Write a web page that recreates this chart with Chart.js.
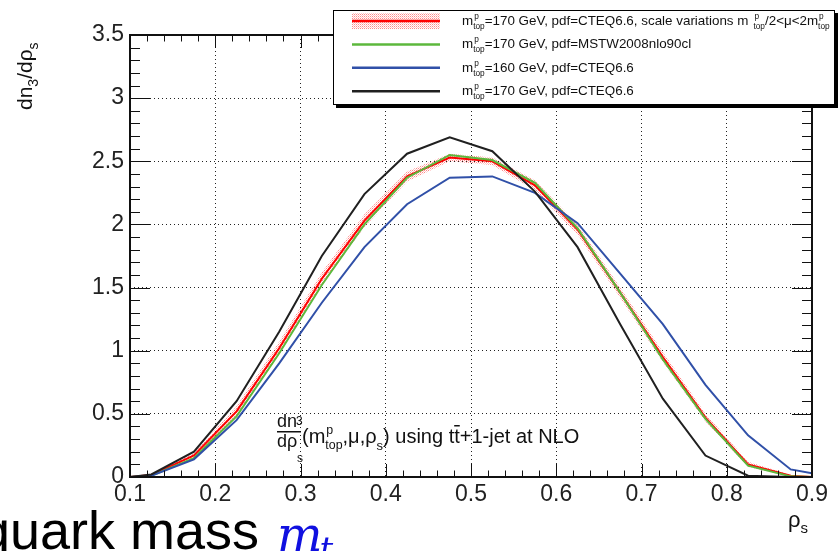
<!DOCTYPE html>
<html>
<head>
<meta charset="utf-8">
<script src="https://cdn.jsdelivr.net/npm/chart.js@4"></script>
<style>
  body { margin: 0; background: #fff; }
  canvas { display: block; }
</style>
</head>
<body>
<canvas id="rho" width="839" height="551"></canvas>
<script>
// rho_s values (bin centres plus the two end points)
const xVals = [0.1, 0.125, 0.175, 0.225, 0.275, 0.325, 0.375, 0.425, 0.475, 0.525, 0.575, 0.625, 0.675, 0.725, 0.775, 0.825, 0.875, 0.9];

// dn3/drho_s for each sample
const cteq170    = [0, 0.015, 0.17, 0.52, 1.02, 1.57, 2.03, 2.38, 2.53, 2.50, 2.31, 1.96, 1.46, 0.95, 0.47, 0.10, 0.01, 0];
const scaleUp    = [0, 0.02, 0.19, 0.56, 1.07, 1.62, 2.08, 2.42, 2.56, 2.53, 2.35, 2.00, 1.50, 0.99, 0.50, 0.12, 0.015, 0];
const scaleDown  = [0, 0.01, 0.15, 0.48, 0.97, 1.52, 1.98, 2.34, 2.50, 2.47, 2.27, 1.92, 1.42, 0.91, 0.44, 0.08, 0.005, 0];
const mstw170    = [0, 0.01, 0.15, 0.48, 0.98, 1.52, 2.00, 2.37, 2.55, 2.51, 2.33, 1.97, 1.46, 0.93, 0.46, 0.09, 0.005, 0];
const cteq160    = [0, 0.01, 0.14, 0.45, 0.90, 1.38, 1.82, 2.16, 2.37, 2.38, 2.25, 2.01, 1.61, 1.21, 0.73, 0.33, 0.06, 0.03];
const cteq170old = [0, 0.02, 0.20, 0.60, 1.15, 1.75, 2.24, 2.56, 2.69, 2.58, 2.26, 1.82, 1.21, 0.62, 0.17, 0.01, 0, 0];

const xTicks = [0.1, 0.2, 0.3, 0.4, 0.5, 0.6, 0.7, 0.8, 0.9];
const xTickLabels = ['0.1', '0.2', '0.3', '0.4', '0.5', '0.6', '0.7', '0.8', '0.9'];
const yTicks = [0, 0.5, 1, 1.5, 2, 2.5, 3, 3.5];
const yTickLabels = ['0', '0.5', '1', '1.5', '2', '2.5', '3', '3.5'];

const legendRows = [
  { color: '#ff0000', band: true,  text: '=170 GeV, pdf=CTEQ6.6, scale variations m', scaleRange: true },
  { color: '#5cb83c', band: false, text: '=170 GeV, pdf=MSTW2008nlo90cl' },
  { color: '#3050a8', band: false, text: '=160 GeV, pdf=CTEQ6.6' },
  { color: '#202020', band: false, text: '=170 GeV, pdf=CTEQ6.6' }
];

const FONT = '"Liberation Sans", Arial, sans-serif';

const pts = ys => xVals.map((x, i) => ({ x, y: ys[i] }));

// dotted red fill for the scale-variation band
function dotPattern() {
  const c = document.createElement('canvas');
  c.width = 2; c.height = 2;
  const g = c.getContext('2d');
  g.fillStyle = 'rgba(255,60,60,0.6)';
  g.fillRect(0, 0, 1, 1);
  g.fillStyle = 'rgba(255,120,120,0.4)';
  g.fillRect(1, 1, 1, 1);
  return g.createPattern(c, 'repeat');
}
const bandFill = dotPattern();

function txt(ctx, s, x, y, size, opts = {}) {
  ctx.font = (opts.style || '') + ' ' + size + 'px ' + (opts.family || FONT);
  ctx.fillStyle = opts.color || '#111';
  ctx.textAlign = opts.align || 'left';
  ctx.textBaseline = 'alphabetic';
  ctx.fillText(s, x, y);
  return x + ctx.measureText(s).width;
}

// "m" with superscript p and subscript top
function mTop(ctx, x, y, size, withM = true) {
  if (withM) x = txt(ctx, 'm', x, y, size);
  const small = size * 0.62;
  const a = txt(ctx, 'p', x + 1, y - size * 0.45, small);
  const b = txt(ctx, 'top', x, y + size * 0.3, small);
  return Math.max(a, b);
}

const rootStyle = {
  id: 'rootStyle',
  afterDatasetsDraw(chart) {
    const { ctx, chartArea: a, scales: { x, y } } = chart;
    ctx.save();
    ctx.strokeStyle = '#111';
    ctx.lineWidth = 1;
    ctx.beginPath();
    // x ticks, bottom and top
    for (let v = 0.1; v <= 0.9001; v += 0.02) {
      const px = Math.round(x.getPixelForValue(v)) + 0.5;
      const major = Math.abs(v * 10 - Math.round(v * 10)) < 1e-6;
      const len = major ? 13 : 6.5;
      ctx.moveTo(px, a.bottom); ctx.lineTo(px, a.bottom - len);
      ctx.moveTo(px, a.top); ctx.lineTo(px, a.top + len);
    }
    // y ticks, left and right
    for (let v = 0; v <= 3.5001; v += 0.1) {
      const py = Math.round(y.getPixelForValue(v)) + 0.5;
      const major = Math.abs(v * 2 - Math.round(v * 2)) < 1e-6;
      const len = major ? 20 : 10;
      ctx.moveTo(a.left, py); ctx.lineTo(a.left + len, py);
      ctx.moveTo(a.right, py); ctx.lineTo(a.right - len, py);
    }
    ctx.stroke();
    ctx.lineWidth = 2;
    ctx.strokeRect(a.left, a.top, a.right - a.left, a.bottom - a.top);
    ctx.restore();
  },
  afterDraw(chart) {
    const { ctx } = chart;
    ctx.save();

    // legend box with shadow
    ctx.fillStyle = '#000';
    ctx.fillRect(336, 13, 502, 95);
    ctx.fillStyle = '#fff';
    ctx.fillRect(333, 10, 502, 95);
    ctx.strokeStyle = '#000';
    ctx.lineWidth = 1;
    ctx.strokeRect(333.5, 10.5, 501, 94);

    const lf = 13.4;
    legendRows.forEach((r, i) => {
      const base = 25 + i * 23.4;
      const ly = base - 4;
      if (r.band) {
        ctx.fillStyle = bandFill;
        ctx.fillRect(352, ly - 8, 88, 16);
      }
      ctx.strokeStyle = r.color;
      ctx.lineWidth = 2.5;
      ctx.beginPath();
      ctx.moveTo(352, ly); ctx.lineTo(440, ly);
      ctx.stroke();
      let cx = mTop(ctx, 462, base, lf);
      cx = txt(ctx, r.text, cx, base, lf);
      if (r.scaleRange) {
        cx = mTop(ctx, cx + 5, base, lf, false);
        cx = txt(ctx, '/2<\u03bc<2m', cx, base, lf);
        mTop(ctx, cx, base, lf, false);
      }
    });

    // formula label inside the frame
    txt(ctx, 'dn', 277, 427, 18);
    txt(ctx, '3', 296, 425, 12);
    ctx.fillStyle = '#111';
    ctx.fillRect(277, 431, 24, 1.5);
    txt(ctx, 'd\u03c1', 277, 447, 18);
    txt(ctx, 's', 297, 462, 12);
    let cx = txt(ctx, '(', 302, 443, 20);
    cx = mTop(ctx, cx, 443, 20);
    cx = txt(ctx, ',\u03bc,\u03c1', cx, 443, 20);
    cx = txt(ctx, 's', cx, 450, 13);
    cx = txt(ctx, ') using t', cx, 443, 20);
    const tw = txt(ctx, 't', cx, 443, 20);
    ctx.fillRect(cx, 425, tw - cx, 1.5);
    txt(ctx, '+1-jet at NLO', tw, 443, 20);

    // axis titles
    ctx.save();
    ctx.translate(32, 110);
    ctx.rotate(-Math.PI / 2);
    let tx = txt(ctx, 'dn', 0, 0, 21);
    tx = txt(ctx, '3', tx, 6, 14);
    tx = txt(ctx, '/d\u03c1', tx, 0, 21);
    txt(ctx, 's', tx, 6, 14);
    ctx.restore();
    const rx = txt(ctx, '\u03c1', 788, 527, 22);
    txt(ctx, 's', rx, 533, 15);

    // slide text underneath
    txt(ctx, 'quark mass', -20, 549, 54, { color: '#000' });
    const mx = txt(ctx, 'm', 277, 551, 48, { family: '"DejaVu Serif", serif', style: 'italic', color: '#1010e0' });
    txt(ctx, 't', mx - 3, 561, 34, { family: '"DejaVu Serif", serif', style: 'italic', color: '#1010e0' });

    ctx.restore();
  }
};

new Chart(document.getElementById('rho'), {
  type: 'line',
  data: {
    datasets: [
      { data: pts(cteq170old), borderColor: '#202020', borderWidth: 2 },
      { data: pts(cteq160), borderColor: '#3050a8', borderWidth: 2 },
      { data: pts(mstw170), borderColor: '#5cb83c', borderWidth: 2 },
      { data: pts(cteq170), borderColor: '#ff0000', borderWidth: 2 },
      { data: pts(scaleUp), borderWidth: 0, fill: '+1', backgroundColor: bandFill },
      { data: pts(scaleDown), borderWidth: 0 }
    ]
  },
  options: {
    responsive: false,
    animation: false,
    devicePixelRatio: 1,
    layout: { padding: { top: 35, right: 27, left: 0, bottom: 0 } },
    elements: { point: { radius: 0 }, line: { tension: 0 } },
    plugins: { legend: { display: false }, tooltip: { enabled: false } },
    scales: {
      x: {
        type: 'linear', min: 0.1, max: 0.9,
        afterBuildTicks: s => { s.ticks = xTicks.map(v => ({ value: v })); },
        afterFit: s => { s.height = 74; },
        ticks: {
          callback: (v, i) => xTickLabels[i], autoSkip: false, maxRotation: 0,
          font: { family: FONT, size: 23 }, color: '#222', padding: 4
        },
        grid: { color: '#222', lineWidth: 1, drawTicks: false },
        border: { display: false, dash: [1, 3] }
      },
      y: {
        min: 0, max: 3.5,
        afterBuildTicks: s => { s.ticks = yTicks.map(v => ({ value: v })); },
        afterFit: s => { s.width = 130; },
        ticks: {
          callback: (v, i) => yTickLabels[i],
          font: { family: FONT, size: 23 }, color: '#222', padding: 6
        },
        grid: { color: '#222', lineWidth: 1, drawTicks: false },
        border: { display: false, dash: [1, 3] }
      }
    }
  },
  plugins: [rootStyle]
});
</script>
</body>
</html>
